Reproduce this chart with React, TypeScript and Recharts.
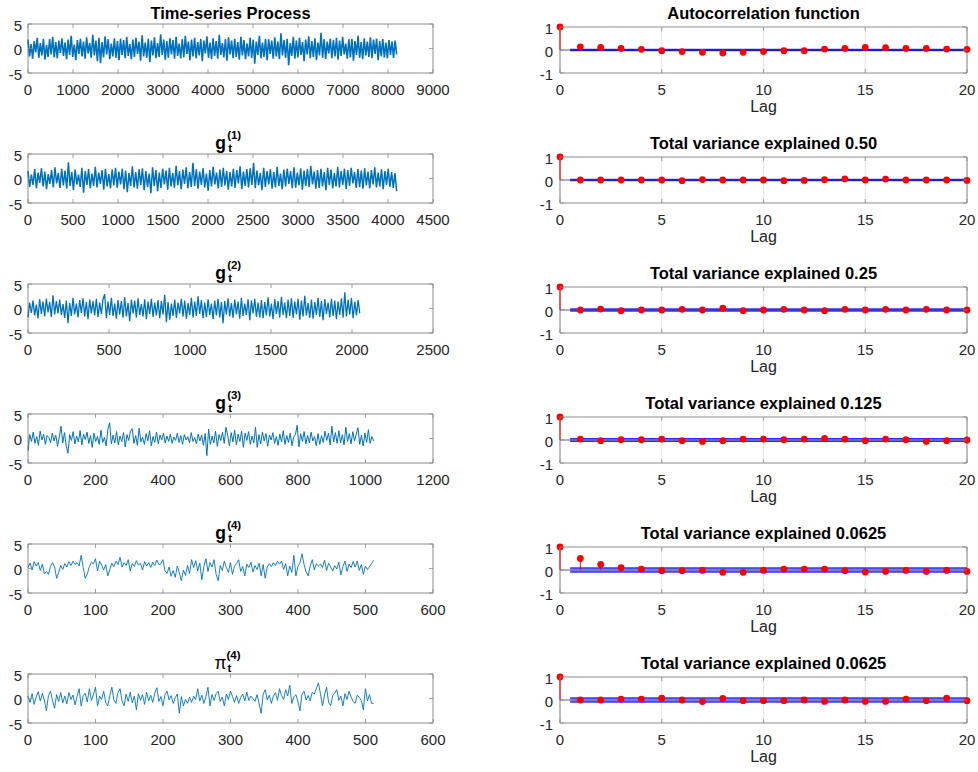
import React from "react";
import {
  ComposedChart,
  Line,
  Scatter,
  XAxis,
  YAxis,
  CartesianGrid,
  ReferenceLine,
  ReferenceArea,
} from "recharts";

const FONT = '"Liberation Sans", Arial, Helvetica, sans-serif';
const BOX = "#8c8c8c";
const INK = "#262626";

// ---- time series (hand-read, subsampled) ----
const processSeries = [
  1.8, -1.6, 0.9, -2.1, 1.5, -0.8, 2.2, -1.9, 1.1, -1.4, 2.0, -2.3, 0.7, -1.7, 1.9, -1.2, 2.4, -1.8, 1.3, -2.0,
  1.6, -0.9, 2.1, -1.5, 1.2, -2.2, 1.8, -1.3, 2.6, -1.7, 0.8, -2.4, 1.7, -1.1, 2.0, -1.6, 1.4, -2.1, 2.3, -1.0,
  1.1, -1.9, 2.8, -1.4, 1.6, -2.6, 2.2, -3.0, 1.3, -1.8, 2.5, -1.2, 1.9, -2.2, 1.0, -1.6, 2.1, -1.9, 1.5, -2.4,
  2.0, -1.3, 1.7, -2.0, 2.4, -1.5, 0.9, -2.2, 1.8, -1.7, 2.2, -1.1, 1.4, -2.5, 2.7, -1.6, 1.2, -1.9, 2.0, -2.8,
  1.6, -1.4, 2.3, -2.0, 1.1, -1.7, 2.9, -1.3, 1.8, -2.3, 1.5, -1.9, 2.1, -1.2, 1.7, -2.1, 2.4, -1.5, 1.0, -2.0,
  1.9, -1.8, 2.6, -1.1, 1.4, -2.4, 1.8, -1.6, 2.2, -2.0, 1.3, -1.4, 2.0, -2.6, 1.6, -1.0, 2.5, -1.9, 1.2, -2.2,
  2.1, -1.5, 1.5, -2.1, 2.8, -1.3, 1.1, -1.8, 1.9, -2.5, 2.3, -1.2, 1.6, -2.0, 2.0, -1.7, 1.3, -2.3, 2.4, -1.4,
  1.7, -2.2, 1.0, -1.6, 2.2, -1.9, 1.8, -3.1, 1.4, -1.3, 2.6, -2.0, 1.2, -1.7, 2.0, -2.4, 1.9, -1.1, 1.6, -2.1,
  2.3, -1.6, 1.4, -2.2, 3.1, -1.4, 1.7, -1.9, 2.0, -3.4, 1.1, -1.5, 2.4, -2.1, 1.6, -1.8, 2.2, -1.3, 1.3, -2.6,
  1.8, -1.2, 2.5, -2.0, 1.5, -1.7, 2.1, -2.4, 1.2, -1.4, 3.2, -1.9, 1.9, -2.2, 1.4, -1.0, 2.0, -2.0, 1.7, -1.6,
  2.2, -2.3, 1.6, -1.5, 2.4, -1.2, 1.0, -2.1, 1.9, -1.8, 2.0, -2.5, 1.5, -1.3, 2.6, -1.9, 1.3, -2.2, 2.1, -1.4,
  1.4, -1.7, 2.3, -2.0, 1.8, -1.1, 2.0, -2.4, 1.5, -1.6, 1.9, -1.8, 1.2, -2.0, 1.7, -1.3, 1.4, -1.9, 1.6, -1.2,
];

const g1Series = [
  1.5, -1.7, 0.8, -1.3, 1.9, -2.0, 1.2, -0.9, 2.1, -1.6, 1.4, -2.2, 0.9, -1.1, 1.7, -1.8, 2.3, -1.0, 1.1, -1.9,
  2.0, -1.4, 1.6, -2.1, 3.3, -1.5, 1.3, -2.4, 1.8, -1.2, 0.8, -1.7, 2.2, -2.9, 1.5, -1.3, 1.9, -2.0, 1.0, -1.5,
  2.4, -1.8, 1.2, -1.1, 1.7, -2.3, 2.0, -1.6, 0.9, -2.0, 1.8, -1.4, 2.2, -1.9, 1.4, -1.2, 2.0, -2.2, 1.6, -2.8,
  1.1, -1.5, 2.5, -1.8, 1.3, -2.1, 1.9, -1.3, 2.1, -2.4, 1.5, -1.7, 1.0, -3.0, 2.3, -1.5, 1.7, -2.6, 1.2, -1.9,
  2.0, -1.2, 1.6, -2.3, 2.2, -1.6, 1.1, -1.9, 2.6, -1.4, 1.5, -2.2, 1.8, -1.1, 2.3, -2.0, 1.3, -1.7, 3.2, -1.5,
  1.9, -2.1, 1.4, -1.3, 2.1, -1.8, 1.0, -2.5, 1.7, -1.6, 2.4, -1.2, 1.2, -2.0, 1.8, -1.7, 2.2, -1.4, 1.5, -2.3,
  1.3, -1.6, 2.0, -1.9, 1.7, -1.0, 2.5, -2.2, 1.4, -1.5, 1.9, -1.8, 2.1, -1.3, 3.2, -2.0, 1.6, -1.4, 1.1, -2.4,
  2.2, -1.7, 1.5, -1.2, 1.9, -2.1, 1.3, -1.8, 2.4, -1.5, 1.0, -2.2, 1.8, -1.6, 2.0, -1.1, 1.5, -2.0, 2.3, -1.9,
  1.2, -1.4, 2.1, -2.3, 1.6, -1.5, 1.9, -1.7, 2.6, -1.2, 1.4, -2.1, 1.7, -1.9, 2.0, -1.6, 1.3, -2.4, 2.2, -1.3,
  1.8, -2.0, 1.1, -1.6, 2.4, -1.8, 1.5, -1.3, 2.0, -2.2, 1.7, -1.5, 2.2, -1.0, 1.3, -1.9, 1.9, -1.7, 1.6, -2.1,
  2.1, -1.4, 1.4, -2.0, 1.7, -1.2, 2.3, -1.8, 1.2, -1.6, 1.9, -2.2, 1.5, -1.3, 2.0, -1.7, 1.3, -1.9, 1.1, -2.6,
];

const g2Series = [
  -1.8, 1.2, -0.9, 1.6, -1.4, 0.8, -2.0, 1.9, -1.1, 1.4, -1.6, 2.0, -0.8, 1.3, -1.7, 2.7, -1.2, 1.5, -1.0, 1.8,
  -1.3, 0.9, -1.9, 1.6, -3.0, 1.1, -1.5, 2.2, -1.2, 1.0, -1.8, 1.7, -0.9, 2.1, -1.6, 1.3, -2.2, 1.8, -1.0, 1.5,
  -1.4, 2.0, -1.7, 1.2, -1.1, 1.9, 2.9, -2.0, 1.4, -1.3, 2.2, -1.5, 1.0, -2.1, 1.7, -1.2, 1.5, -1.9, 2.3, -1.6,
  1.1, -2.6, 1.8, -1.0, 1.6, -1.8, 2.1, -1.3, 0.9, -1.6, 1.9, -2.2, 1.4, -1.1, 2.0, -1.7, 1.2, -1.4, 1.7, -2.0,
  1.5, -1.2, 2.8, -2.8, 1.3, -2.3, 1.0, -1.5, 1.8, -1.9, 1.2, -1.0, 2.0, -1.6, 1.6, -2.1, 1.1, -1.3, 2.2, -1.8,
  1.4, -1.5, 2.5, -1.1, 1.7, -2.0, 1.2, -1.7, 1.9, -1.3, 1.0, -2.2, 1.6, -1.4, 2.0, -1.8, 1.3, -3.0, 1.5, -1.2,
  2.1, -1.6, 1.1, -1.9, 1.8, -1.2, 1.4, -2.1, 2.2, -1.5, 1.0, -1.3, 1.9, -2.4, 1.6, -1.0, 2.0, -1.7, 1.2, -1.8,
  1.7, -2.0, 1.3, -1.4, 2.3, -1.6, 1.0, -2.2, 1.9, -1.1, 1.5, -1.8, 2.4, -1.3, 1.2, -2.0, 1.8, -1.5, 2.1, -1.9,
  1.4, -1.2, 2.0, -2.3, 1.6, -1.6, 2.6, -1.4, 1.1, -1.9, 1.8, -2.1, 1.3, -1.3, 2.2, -1.7, 1.5, -2.4, 1.9, -1.1,
  1.2, -1.8, 2.0, -1.5, 1.6, -2.2, 1.4, -1.3, 2.1, -1.9, 3.3, -1.6, 1.8, -1.2, 2.2, -2.0, 1.4, -1.4, 1.7, -1.0,
];

const g3Series = [
  -2.5, 0.8, -0.6, 1.3, -1.0, 0.4, -1.4, 1.5, -0.3, 0.9, -1.2, 0.6, 0.2, -0.8, 1.1, -0.5, 0.7, -1.6, 0.3, 2.5,
  -0.9, 1.2, -1.5, -3.0, 0.8, -0.4, 1.4, -1.1, 0.5, -0.7, 1.6, -1.3, 0.9, -0.2, 1.3, -1.0, 0.6, -1.8, 1.1, -0.6,
  0.4, -1.2, 1.7, -0.8, 0.2, -1.5, 1.9, 3.2, -1.1, 0.7, -0.9, 1.4, -1.3, 0.5, -0.6, 1.2, -1.7, 0.8, -0.4, 1.5,
  2.0, -1.0, 0.6, -1.4, 2.1, -0.7, 0.3, -1.2, 1.0, -0.5, 1.6, -1.5, 0.4, -0.8, 1.3, -1.1, 0.7, -0.3, 1.1, -0.9,
  0.5, -0.6, 0.9, -1.0, 0.3, -0.4, 1.1, -0.8, 0.6, -1.2, 0.8, -0.3, 0.4, -0.9, 1.2, -0.6, 0.2, -1.1, 0.9, -0.5,
  0.7, -1.4, 1.0, -3.5, 1.9, -1.2, 0.5, -0.9, 1.5, -1.6, 0.8, -0.4, 1.3, -1.0, 2.3, 0.6, -1.5, 1.2, -0.7, 1.7,
  -1.3, 0.9, -0.6, 1.5, -1.8, 1.1, -0.4, 1.4, -1.2, 0.5, -0.9, 2.3, -1.8, 0.8, -1.1, 1.3, -0.5, 1.0, -1.6, 0.7,
  -0.3, 1.2, -1.0, 0.4, -1.4, 0.9, -0.7, 1.6, -1.2, 0.6, -0.8, 1.1, -1.5, 0.3, 0.8, 2.7, -1.7, 1.0, -0.6, 1.4,
  -1.1, 0.7, -0.9, 1.3, -0.5, 0.4, -1.5, 1.0, -1.2, 0.6, -0.8, 1.5, -0.4, 1.1, -1.3, 2.5, -0.7, 1.2, -1.0, 1.6,
  -0.9, 0.8, -1.3, 2.3, -0.6, 1.0, -1.1, 1.4, -0.5, 0.9, 2.2, -1.2, 0.7, -1.5, 1.1, -0.8, 1.8, -1.0, 0.4, -0.5,
];

const g4Series = [
  0.2, 1.1, -0.3, 1.4, 0.5, 1.2, -0.4, 0.9, -1.1, -0.6, -1.2, 0.4, 1.2, 0.3, -2.0, -0.8, 0.6, -0.2, 1.0, 0.3,
  1.4, 0.6, 1.5, 0.8, 1.2, 0.5, 2.7, 0.2, -2.0, -1.1, 0.4, 1.3, 0.9, 2.0, -0.5, 1.5, 0.7, -0.3, 0.8, -1.5,
  -0.2, 1.1, 0.4, 1.5, 0.8, 2.3, 0.3, 1.2, 0.6, 1.8, -0.5, 1.0, 0.4, 1.6, 0.7, 1.1, -0.3, 1.4, 0.5, 1.2,
  0.2, 1.3, 0.6, 1.7, 0.8, 1.0, 1.8, -0.5, -1.0, 0.3, -1.6, -0.4, -1.8, 0.5, -0.9, -2.5, -0.3, -1.4, 0.6, -1.0,
  1.8, 0.2, 1.6, -0.5, 1.1, -2.3, 0.4, 2.0, -0.6, 1.2, 0.3, 1.8, -1.2, -2.5, 0.6, -0.4, 1.5, 0.2, -0.8, 1.2,
  -1.2, 0.5, 1.0, 1.8, -0.6, 0.4, -1.5, 0.9, 0.2, 1.3, -0.7, 0.6, -0.2, 1.1, -1.5, 0.8, -2.0, 0.3, 1.0, 0.4,
  1.2, 0.6, 1.5, 0.9, 1.5, -0.2, 1.0, -1.5, 0.5, -0.8, 2.7, -1.5, 0.4, 1.2, 3.0, 0.8, -0.7, -1.5, 0.5, 1.8,
  -0.3, 1.0, 0.5, 0.9, 0.2, 1.7, -0.4, 1.1, 0.3, -0.5, 0.6, -0.1, 1.3, -1.3, 0.4, 1.5, -0.6, 0.9, 0.2, 1.4,
  0.3, 1.5, -0.4, 0.8, -1.2, 0.5, -0.2, 0.4, 1.0, 1.7,
];

const pi4Series = [
  0.5, -0.8, 1.0, -1.2, 0.3, 1.4, -0.5, 1.0, -0.3, -2.5, 0.6, 1.5, -0.4, -2.0, 0.8, -0.6, 1.2, -0.9, 0.5, -1.1,
  1.2, -0.2, 0.7, -1.3, 0.4, 2.0, -1.5, 0.6, 1.1, -0.7, 2.0, -0.4, 0.8, 2.3, -1.5, 0.5, -0.2, 1.5, -0.8, -1.5,
  0.6, 2.3, -0.3, -1.0, 1.2, 2.0, -0.5, -1.5, 0.9, -0.6, 1.3, -0.9, 0.5, -2.3, 1.0, -0.4, 0.8, -1.2, 1.3, -0.5,
  0.7, -0.8, 1.1, 2.2, -0.6, 0.4, -1.5, 0.8, 1.5, -0.3, 0.6, -1.0, 0.2, 0.9, -3.0, 0.4, -1.5, -0.2, -1.0, 0.3,
  -0.8, 0.5, -0.2, 2.0, -0.5, 0.7, -1.0, 0.4, 2.3, -1.5, 0.8, -0.4, 1.0, 1.5, -0.6, 0.3, -1.5, 0.9, -0.2, 1.5,
  0.4, -0.8, 0.6, -1.0, 0.2, 0.9, -0.5, 1.3, -0.4, 0.5, 0.0, -0.6, 0.8, -1.0, -3.0, 0.9, 1.8, -0.3, 0.7, -1.0,
  0.5, 1.2, -0.4, 2.0, 0.6, -0.2, 1.8, 0.5, 2.7, -1.0, 0.3, 0.8, -0.6, -2.5, 0.9, 1.5, -0.3, 0.6, -0.5, 1.3,
  0.9, 2.0, 3.2, 1.0, -1.5, 0.7, 2.3, -0.8, -1.5, 0.6, 1.1, 1.8, -0.4, 0.5, -1.5, 1.0, -0.2, 1.5, 0.3, -0.6,
  -1.0, 0.7, 0.2, -0.4, -2.3, 2.0, -0.5, 0.8, -1.0, -1.0,
];

const seriesLengths = [8192, 4096, 2048, 1024, 512, 512];
const seriesXTicks = [
  [0, 1000, 2000, 3000, 4000, 5000, 6000, 7000, 8000, 9000],
  [0, 500, 1000, 1500, 2000, 2500, 3000, 3500, 4000, 4500],
  [0, 500, 1000, 1500, 2000, 2500],
  [0, 200, 400, 600, 800, 1000, 1200],
  [0, 100, 200, 300, 400, 500, 600],
  [0, 100, 200, 300, 400, 500, 600],
];
const seriesYTicks = [-5, 0, 5];
// dense series are drawn with a heavier pen so the band reads solid
const seriesStroke = [1.6, 1.5, 1.3, 1.0, 0.9, 0.9];

// ---- autocorrelation, lags 0..20 ----
const lags = [0, 1, 2, 3, 4, 5, 6, 7, 8, 9, 10, 11, 12, 13, 14, 15, 16, 17, 18, 19, 20];
const acfProcess = [1, 0.14, 0.11, 0.07, 0.03, -0.03, -0.07, -0.1, -0.13, -0.1, -0.07, -0.03, -0.03, 0.04, 0.07, 0.11, 0.1, 0.07, 0.07, 0.04, 0.03];
const acfG1 = [1, 0, 0, 0, 0, 0, -0.03, 0.02, 0, 0, 0, -0.03, -0.02, 0.01, 0.05, 0, 0.04, 0, 0, 0, -0.02];
const acfG2 = [1, 0, 0.04, -0.03, 0, 0, 0.03, 0, 0.08, -0.03, 0, 0.03, 0, -0.03, 0.03, 0, 0.03, 0, 0.03, 0, 0];
const acfG3 = [1, 0.04, -0.03, 0.01, 0.01, 0.04, -0.03, -0.06, -0.03, 0.04, 0.04, 0.01, 0.04, 0.07, 0.04, -0.03, 0.04, 0.01, -0.06, -0.03, 0];
const acfG4 = [1, 0.5, 0.24, 0.1, 0.04, -0.03, -0.03, -0.02, -0.1, -0.1, -0.02, 0.04, 0.04, 0.04, -0.03, -0.09, -0.06, -0.02, -0.06, -0.02, -0.06];
const acfPi4 = [1, 0, 0, 0.04, 0.04, 0.08, 0, -0.07, 0.07, -0.03, -0.03, -0.03, 0, -0.06, 0, -0.06, -0.06, 0.04, -0.03, 0.08, -0.03];
const acfBands = [0.022, 0.031, 0.044, 0.0625, 0.088, 0.088];
const acfTitles = [
  "Autocorrelation function",
  "Total variance explained 0.50",
  "Total variance explained 0.25",
  "Total variance explained 0.125",
  "Total variance explained 0.0625",
  "Total variance explained 0.0625",
];
const acfXTicks = [0, 5, 10, 15, 20];
const acfYTicks = [-1, 0, 1];

const seriesList = [processSeries, g1Series, g2Series, g3Series, g4Series, pi4Series];
const acfList = [acfProcess, acfG1, acfG2, acfG3, acfG4, acfPi4];

// title pieces for the left column: [base, superscript]
const seriesTitles: (string | [string, string])[] = [
  "Time-series Process",
  ["g", "(1)"],
  ["g", "(2)"],
  ["g", "(3)"],
  ["g", "(4)"],
  ["π", "(4)"],
];

const ROW = 130;

function XTick(props: any) {
  const { x, y, payload, h } = props;
  return (
    <g>
      <line x1={x} x2={x} y1={y} y2={y - 4} stroke={BOX} strokeWidth={0.8} />
      <line x1={x} x2={x} y1={y - h} y2={y - h + 4} stroke={BOX} strokeWidth={0.8} />
      <text x={x} y={y + 22} textAnchor="middle" fontSize={15} fontFamily={FONT} fill={INK}>
        {payload.value}
      </text>
    </g>
  );
}

function YTick(props: any) {
  const { x, y, payload, w, gap } = props;
  return (
    <g>
      <line x1={x} x2={x + 4} y1={y} y2={y} stroke={BOX} strokeWidth={0.8} />
      <line x1={x + w} x2={x + w - 4} y1={y} y2={y} stroke={BOX} strokeWidth={0.8} />
      <text x={x - gap} y={y + 6.5} textAnchor="end" fontSize={15} fontFamily={FONT} fill={INK}>
        {payload.value}
      </text>
    </g>
  );
}

function SeriesTitle({ title, row }: { title: string | [string, string]; row: number }) {
  const base: React.CSSProperties = {
    position: "absolute",
    left: 28,
    width: 405,
    top: row * ROW + 3,
    height: 20,
    textAlign: "center",
    fontFamily: FONT,
    fontWeight: "bold",
    fontSize: 16.5,
    lineHeight: "20px",
    color: "#000",
    whiteSpace: "nowrap",
  };
  if (typeof title === "string") return <div style={base}>{title}</div>;
  const [sym, sup] = title;
  const isPi = sym === "π";
  const small: React.CSSProperties = { position: "absolute", fontSize: 11.5, lineHeight: "11px" };
  return (
    <div style={base}>
      <span style={{ position: "relative", display: "inline-block", paddingRight: 20 }}>
        <span style={{ fontWeight: isPi ? "normal" : "bold", fontSize: 17.5 }}>{sym}</span>
        <span style={{ ...small, left: 12, top: -3 }}>{sup}</span>
        <span style={{ ...small, left: 13, top: 10 }}>t</span>
      </span>
    </div>
  );
}

function SeriesPanel({ row }: { row: number }) {
  const values = seriesList[row];
  const len = seriesLengths[row];
  const ticks = seriesXTicks[row];
  const xMax = ticks[ticks.length - 1];
  const data = values.map((v, i) => ({ t: (i * len) / (values.length - 1), v }));
  return (
    <div style={{ position: "absolute", left: 0, top: row * ROW, width: 450, height: 125 }}>
      <ComposedChart width={450} height={125} data={data} margin={{ top: 24, right: 17, bottom: 0, left: 0 }}>
        <XAxis
          type="number"
          dataKey="t"
          domain={[0, xMax]}
          ticks={ticks}
          interval={0}
          height={52}
          tickSize={0}
          tickMargin={0}
          axisLine={false}
          tickLine={false}
          tick={(p: any) => <XTick {...p} h={49} />}
        />
        <YAxis
          type="number"
          domain={[-5, 5]}
          ticks={seriesYTicks}
          interval={0}
          width={28}
          tickSize={0}
          tickMargin={0}
          axisLine={false}
          tickLine={false}
          tick={(p: any) => <YTick {...p} w={405} gap={6} />}
        />
        <ReferenceArea x1={0} x2={xMax} y1={-5} y2={5} fill="none" stroke={BOX} strokeWidth={1} ifOverflow="visible" />
        <Line
          type="linear"
          dataKey="v"
          stroke="#0072BD"
          strokeWidth={seriesStroke[row]}
          strokeLinejoin="miter"
          dot={false}
          isAnimationActive={false}
        />
      </ComposedChart>
    </div>
  );
}

function RedDot(props: any) {
  const { cx, cy } = props;
  return <circle cx={cx} cy={cy} r={3.4} fill="#ff0000" />;
}

function AcfPanel({ row }: { row: number }) {
  const values = acfList[row];
  const band = acfBands[row];
  const data = lags.map((lag, i) => ({ lag, r: values[i] }));
  return (
    <div style={{ position: "absolute", left: 520, top: row * ROW, width: 458, height: 125 }}>
      <ComposedChart width={458} height={125} data={data} margin={{ top: 27, right: 11, bottom: 0, left: 0 }}>
        <CartesianGrid horizontal={false} vertical stroke="#e4e4e4" />
        <XAxis
          type="number"
          dataKey="lag"
          domain={[0, 20]}
          ticks={acfXTicks}
          interval={0}
          height={52}
          tickSize={0}
          tickMargin={0}
          axisLine={false}
          tickLine={false}
          tick={(p: any) => <XTick {...p} h={46} />}
        />
        <YAxis
          type="number"
          domain={[-1, 1]}
          ticks={acfYTicks}
          interval={0}
          width={40}
          tickSize={0}
          tickMargin={0}
          axisLine={false}
          tickLine={false}
          tick={(p: any) => <YTick {...p} w={407} gap={7} />}
        />
        <ReferenceArea x1={0} x2={20} y1={-1} y2={1} fill="none" stroke={BOX} strokeWidth={1} ifOverflow="visible" />
        <ReferenceArea x1={0.5} x2={20} y1={-band} y2={band} fill="#0000ff" fillOpacity={0.3} stroke="none" ifOverflow="visible" />
        <ReferenceLine segment={[{ x: 0.5, y: band }, { x: 20, y: band }]} stroke="#0000ff" strokeOpacity={0.8} strokeWidth={1.3} />
        <ReferenceLine segment={[{ x: 0.5, y: -band }, { x: 20, y: -band }]} stroke="#0000ff" strokeOpacity={0.8} strokeWidth={1.3} />
        <ReferenceLine segment={[{ x: 0, y: 0 }, { x: 20, y: 0 }]} stroke="#1a1a66" strokeOpacity={0.7} strokeWidth={1} />
        {data.map((d) => (
          <ReferenceLine
            key={d.lag}
            segment={[{ x: d.lag, y: 0 }, { x: d.lag, y: d.r }]}
            stroke="#ff0000"
            strokeWidth={1}
            ifOverflow="visible"
          />
        ))}
        <Scatter dataKey="r" fill="#ff0000" shape={RedDot} isAnimationActive={false} />
      </ComposedChart>
      <div
        style={{
          position: "absolute",
          left: 40,
          width: 407,
          top: 3,
          textAlign: "center",
          fontFamily: FONT,
          fontWeight: "bold",
          fontSize: 16.5,
          lineHeight: "20px",
          whiteSpace: "nowrap",
        }}
      >
        {acfTitles[row]}
      </div>
      <div
        style={{
          position: "absolute",
          left: 40,
          width: 407,
          top: 99,
          textAlign: "center",
          fontFamily: FONT,
          fontSize: 16,
          lineHeight: "16px",
          color: INK,
        }}
      >
        Lag
      </div>
    </div>
  );
}

export default function App() {
  const rows = [0, 1, 2, 3, 4, 5];
  return (
    <div style={{ position: "absolute", left: 0, top: 0, width: 978, height: 772, background: "#fff", overflow: "hidden" }}>
      {rows.map((r) => (
        <React.Fragment key={r}>
          <SeriesTitle title={seriesTitles[r]} row={r} />
          <SeriesPanel row={r} />
          <AcfPanel row={r} />
        </React.Fragment>
      ))}
    </div>
  );
}
